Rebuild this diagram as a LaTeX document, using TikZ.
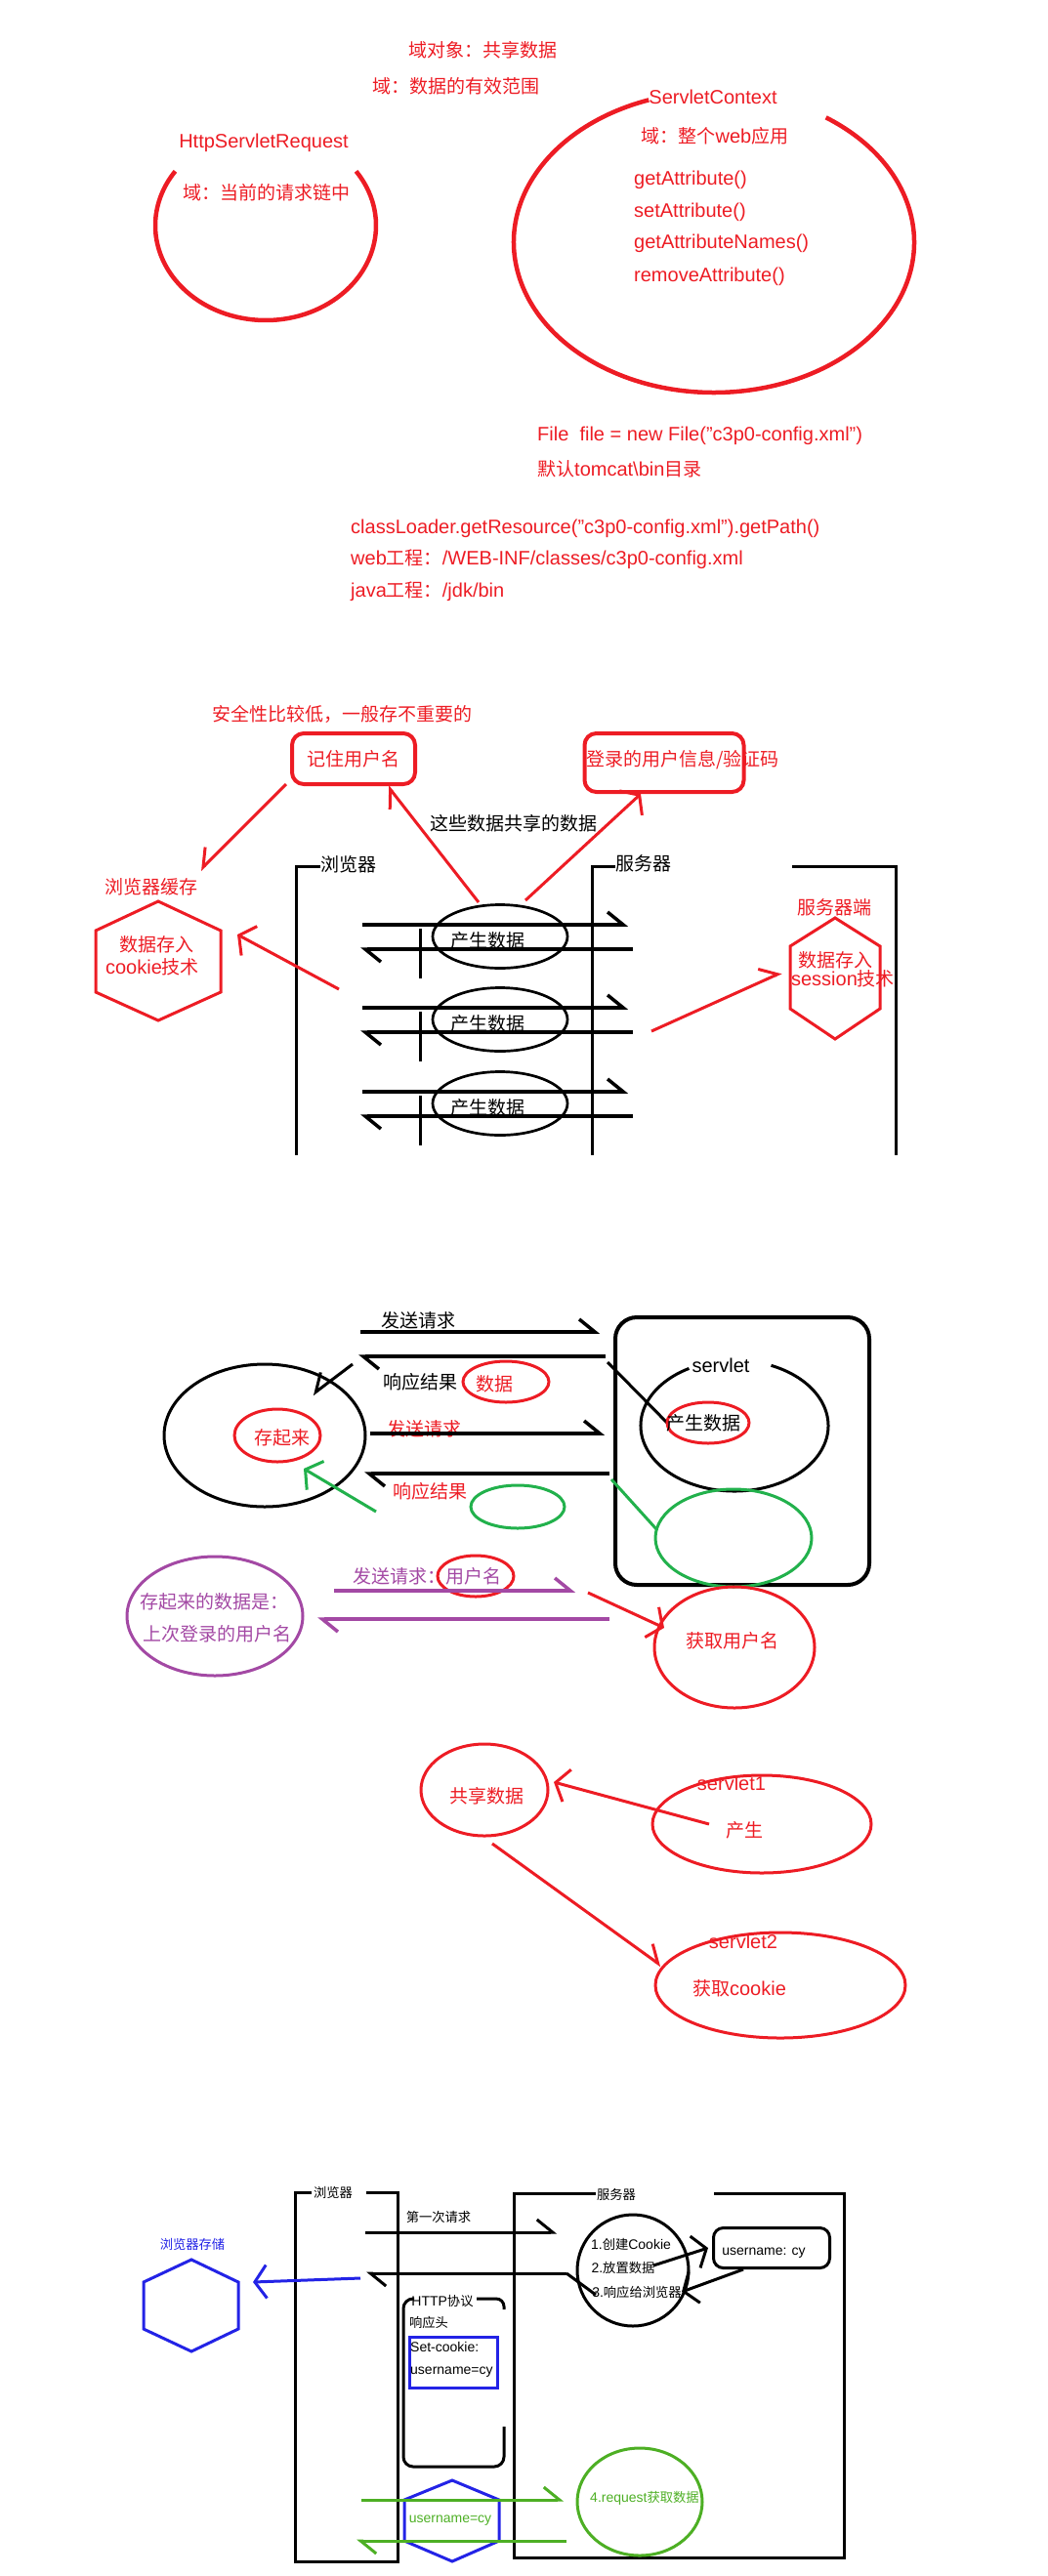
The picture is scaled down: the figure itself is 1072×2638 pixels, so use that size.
\documentclass[tikz,border=0pt]{standalone}
\usepackage{fontspec}
\setmainfont{Liberation Sans}
\newfontfamily\cjkf{Noto Sans CJK SC}[Scale=0.95]
\newcommand\zh[1]{{\cjkf #1}}
\usetikzlibrary{arrows.meta,shapes.geometric}
\definecolor{pred}{HTML}{ED1C24}
\definecolor{pgreen}{HTML}{22B14C}
\definecolor{lgreen}{HTML}{4DAF24}
\definecolor{ppurple}{HTML}{A349A4}
\definecolor{pblue}{HTML}{2323E6}
\begin{document}
\begin{tikzpicture}[x=1pt,y=-1pt,
  tx/.style={inner sep=0pt,font=\fontsize{20}{24}\selectfont},
  sm/.style={inner sep=0pt,font=\fontsize{14}{17}\selectfont},
  R/.style={text=pred}, K/.style={text=black}, G/.style={text=pgreen},
  P/.style={text=ppurple}, B/.style={text=pblue}, LG/.style={text=lgreen},
  rl/.style={draw=pred,line width=4.5pt},
  rl3/.style={draw=pred,line width=3pt},
  bk/.style={draw=black,line width=3pt},
  bk5/.style={draw=black,line width=3.5pt},
  gl/.style={draw=pgreen,line width=3pt},
  pl/.style={draw=ppurple,line width=3.5pt},
  bl/.style={draw=pblue,line width=3pt},
  lgl/.style={draw=lgreen,line width=3pt},
  ell/.style={ellipse,inner sep=0pt},
  hp/.style={-{Straight Barb[harpoon,length=16pt,width=26pt]}},
  hps/.style={-{Straight Barb[harpoon,swap,length=16pt,width=26pt]}},
  op/.style={-{Straight Barb[length=12pt,width=34pt]}},
  rbox/.style={rounded corners=12pt,line width=4pt}
]
\useasboundingbox (0,0) rectangle (1072,2638);

% ---------------- section 1
\node[tx,R] (t1) at (494,51) {\zh{域对象：共享数据}};
\node[tx,R] (t2) at (467,88) {\zh{域：数据的有效范围}};
\node[tx,R] (t3) at (270,146) {HttpServletRequest};
\node[tx,R] (t4) at (273,197) {\zh{域：当前的请求链中}};
\coordinate (c1) at (272,231);
\draw[rl] (c1) ++(-35:113 and 97) arc[start angle=-35,end angle=215,x radius=113,y radius=97];
\node[tx,R] (t5) at (730,99) {ServletContext};
\coordinate (c2) at (731,248);
\draw[rl] (c2) ++(-56:205 and 154) arc[start angle=-56,end angle=251,x radius=205,y radius=154];
\node[tx,R] (t6) at (732,139) {\zh{域：整个}web\zh{应用}};
\node[tx,R,anchor=west] (m1) at (649,184) {getAttribute()};
\node[tx,R,anchor=west] (m2) at (649,217) {setAttribute()};
\node[tx,R,anchor=west] (m3) at (649,249) {getAttributeNames()};
\node[tx,R,anchor=west] (m4) at (649,283) {removeAttribute()};
\node[tx,R,anchor=west] (f1) at (550,446) {File\ \ file = new File("c3p0-config.xml")};
\node[tx,R,anchor=west] (f2) at (550,480) {\zh{默认}tomcat\textbackslash bin\zh{目录}};
\node[tx,R,anchor=west] (f3) at (359,541) {classLoader.getResource("c3p0-config.xml").getPath()};
\node[tx,R,anchor=west] (f4) at (359,573) {web\zh{工程：}/WEB-INF/classes/c3p0-config.xml};
\node[tx,R,anchor=west] (f5) at (359,606) {java\zh{工程：}/jdk/bin};

% ---------------- section 2
\node[tx,R] (s1) at (350,731) {\zh{安全性比较低，一般存不重要的}};
\node[draw=pred,rbox,tx,R,minimum width=126pt,minimum height=52pt] (b1) at (362,777) {\zh{记住用户名}};
\node[draw=pred,rbox,minimum width=163pt,minimum height=60pt] (b2) at (680,781) {};
\node[tx,R,anchor=west] (s2) at (600,778) {\zh{登录的用户信息/验证码}};
\node[tx,K] (s3) at (526,843) {\zh{这些数据共享的数据}};
\node[tx,K] (s4) at (357,885) {\zh{浏览器}};
\node[tx,K] (s5) at (659,884) {\zh{服务器}};
\draw[bk] (328,887) -- (303,887) -- (303,1183);
\draw[bk] (630,887) -- (606,887) -- (606,1183);
\draw[bk] (811,887) -- (917,887) -- (917,1183);
\node[tx,R] (s6) at (155,908) {\zh{浏览器缓存}};
\draw[rl3] (162,923) -- (226,953) -- (226,1016) -- (162,1045) -- (98,1016) -- (98,953) -- cycle;
\node[tx,R] (s7) at (160,967) {\zh{数据存入}};
\node[tx,R] (s8) at (156,990) {cookie\zh{技术}};
\node[tx,R] (s9) at (854,929) {\zh{服务器端}};
\draw[rl3] (855,940) -- (901,969) -- (901,1033) -- (855,1064) -- (809,1033) -- (809,969) -- cycle;
\node[tx,R] (s10) at (855,983) {\zh{数据存入}};
\node[tx,R] (s11) at (863,1002) {session\zh{技术}};
\foreach \i/\y in {1/959,2/1044,3/1130} {
  \node[ell,draw,line width=2.7pt,minimum width=138pt,minimum height=65pt] (e\i) at (512,\y) {};
  \node[tx,K] (et\i) at (499,\y+4) {\zh{产生数据}};
  \coordinate (ra\i) at (371,\y-12); \coordinate (rb\i) at (643,\y-12);
  \coordinate (rc\i) at (648,\y+13); \coordinate (rd\i) at (369,\y+13);
  \draw[bk5,hp] (ra\i) -- (rb\i);
  \draw[bk5,hp] (rc\i) -- (rd\i);
  \draw[bk] (430,\y-8) -- (430,\y+43);
}
\coordinate (a1s) at (293,803); \coordinate (a1e) at (205,891);
\draw[rl3,hps] (a1s) -- (a1e);
\coordinate (a2s) at (490,924); \coordinate (a2e) at (397,805);
\draw[rl3,hp] (a2s) -- (a2e);
\coordinate (a3s) at (538,922); \coordinate (a3e) at (656,813);
\draw[rl3,op] (a3s) -- (a3e);
\coordinate (a4s) at (347,1013); \coordinate (a4e) at (243,957);
\draw[rl3,op] (a4s) -- (a4e);
\coordinate (a5s) at (667,1056); \coordinate (a5e) at (800,996);
\draw[rl3,hp] (a5s) -- (a5e);

% ---------------- section 3
\node[tx,K] (u1) at (428,1352) {\zh{发送请求}};
\coordinate (q1a) at (369,1364); \coordinate (q1b) at (614,1364);
\draw[bk5,hp] (q1a) -- (q1b);
\node[draw,line width=4pt,rounded corners=22pt,minimum width=260pt,minimum height=274pt] (sv) at (760,1486) {};
\coordinate (q2a) at (620,1389); \coordinate (q2b) at (367,1389);
\draw[bk5,hp] (q2a) -- (q2b);
\node[tx,K] (u2) at (430,1415) {\zh{响应结果}};
\node[ell,draw=pred,line width=3pt,minimum width=88pt,minimum height=42pt] (u3e) at (518,1415) {};
\node[tx,R] (u3) at (506,1417) {\zh{数据}};
\node[ell,draw,line width=3pt,minimum width=206pt,minimum height=146pt] (u4e) at (271,1470) {};
\node[ell,draw=pred,line width=3pt,minimum width=88pt,minimum height=54pt] (u5e) at (284,1470) {};
\node[tx,R] (u5) at (289,1472) {\zh{存起来}};
\coordinate (q3a) at (361,1397); \coordinate (q3b) at (320,1428);
\draw[bk,hps] (q3a) -- (q3b);
\coordinate (q4a) at (622,1395); \coordinate (q4b) at (684,1458);
\draw[bk] (q4a) -- (q4b);
\node[tx,K] (u6) at (738,1398) {servlet};
\coordinate (c3) at (752,1460);
\draw[bk] (c3) ++(-67:96 and 67) arc[start angle=-67,end angle=241,x radius=96,y radius=67];
\node[ell,draw=pred,line width=3pt,minimum width=84pt,minimum height=42pt] (u7e) at (725,1457) {};
\node[tx,K] (u7) at (720,1457) {\zh{产生数据}};
\node[tx,R] (u8) at (434,1463) {\zh{发送请求}};
\coordinate (q5a) at (379,1468); \coordinate (q5b) at (619,1468);
\draw[bk5,hp] (q5a) -- (q5b);
\coordinate (q6a) at (624,1509); \coordinate (q6b) at (373,1509);
\draw[bk5,hp] (q6a) -- (q6b);
\node[tx,R] (u9) at (440,1527) {\zh{响应结果}};
\node[ell,draw=pgreen,line width=3pt,minimum width=96pt,minimum height=44pt] (g1) at (530,1543) {};
\coordinate (q7a) at (385,1548); \coordinate (q7b) at (311,1504);
\draw[gl,op] (q7a) -- (q7b);
\coordinate (q8a) at (626,1515); \coordinate (q8b) at (673,1567);
\draw[gl] (q8a) -- (q8b);
\node[ell,draw=pgreen,line width=3pt,minimum width=160pt,minimum height=100pt] (g2) at (751,1575) {};
\node[tx,P] (u10) at (437,1614) {\zh{发送请求：用户名}};
\node[ell,draw=pred,line width=3pt,minimum width=78pt,minimum height=42pt] (u11e) at (487,1614) {};
\coordinate (q9a) at (342,1629); \coordinate (q9b) at (589,1629);
\draw[pl,hp] (q9a) -- (q9b);
\coordinate (q10a) at (624,1658); \coordinate (q10b) at (325,1658);
\draw[pl,hp] (q10a) -- (q10b);
\node[ell,draw=ppurple,line width=3pt,minimum width=180pt,minimum height=122pt] (pe) at (220,1655) {};
\node[tx,P] (u12) at (219,1640) {\zh{存起来的数据是：}};
\node[tx,P] (u13) at (222,1673) {\zh{上次登录的用户名}};
\coordinate (q11a) at (602,1631); \coordinate (q11b) at (680,1667);
\draw[rl3,op] (q11a) -- (q11b);
\node[ell,draw=pred,line width=3pt,minimum width=164pt,minimum height=124pt] (u14e) at (752,1687) {};
\node[tx,R] (u14) at (750,1680) {\zh{获取用户名}};

% ---------------- section 4
\node[ell,draw=pred,line width=3pt,minimum width=130pt,minimum height=94pt] (v1e) at (496,1833) {};
\node[tx,R] (v1) at (498,1839) {\zh{共享数据}};
\node[ell,draw=pred,line width=3pt,minimum width=224pt,minimum height=100pt] (v2e) at (780,1868) {};
\node[tx,R] (v2) at (749,1826) {servlet1};
\node[tx,R] (v3) at (762,1874) {\zh{产生}};
\coordinate (w1a) at (726,1868); \coordinate (w1b) at (567,1825);
\draw[rl3,op] (w1a) -- (w1b);
\coordinate (w2a) at (504,1888); \coordinate (w2b) at (677,2013);
\draw[rl3,hp] (w2a) -- (w2b);
\node[ell,draw=pred,line width=3pt,minimum width=256pt,minimum height=108pt] (v4e) at (799,2033) {};
\node[tx,R] (v4) at (761,1988) {servlet2};
\node[tx,R] (v5) at (757,2036) {\zh{获取}cookie};

% ---------------- section 5
\node[sm,K] (x1) at (341,2245) {\zh{浏览器}};
\draw[bk] (319,2245) -- (302,2245) -- (302,2623) -- (407,2623) -- (407,2245) -- (375,2245);
\node[sm,K] (x2) at (631,2247) {\zh{服务器}};
\draw[bk] (610,2246) -- (526,2246) -- (526,2619) -- (864,2619) -- (864,2246) -- (731,2246);
\node[sm,K] (x3) at (449,2270) {\zh{第一次请求}};
\coordinate (y1a) at (374,2286); \coordinate (y1b) at (570,2286);
\draw[bk,hp] (y1a) -- (y1b);
\node[circle,draw,line width=3pt,minimum size=114pt,inner sep=0pt] (ck) at (648,2325) {};
\node[sm,K] (x4) at (646,2298) {1.\zh{创建}Cookie};
\node[sm,K] (x5) at (638,2322) {2.\zh{放置数据}};
\node[sm,K] (x6) at (652,2347) {3.\zh{响应给浏览器}};
\node[draw,line width=3pt,rounded corners=10pt,minimum width=119pt,minimum height=41pt] (ub) at (790,2302) {};
\node[sm,K] (x7) at (782,2307) {username: cy};
\coordinate (y2a) at (669,2320); \coordinate (y2b) at (725,2302);
\draw[bk,op] (y2a) -- (y2b);
\coordinate (y3a) at (761,2324); \coordinate (y3b) at (698,2347);
\draw[bk,op] (y3a) -- (y3b);
\coordinate (y4a) at (580,2328); \coordinate (y4b) at (375,2328); \coordinate (y4c) at (610,2350);
\draw[bk,hp] (y4a) -- (y4b);
\draw[bk] (y4a) -- (y4c);
\coordinate (y5a) at (369,2333); \coordinate (y5b) at (259,2337);
\draw[bl,op] (y5a) -- (y5b);
\node[sm,B] (x8) at (197,2298) {\zh{浏览器存储}};
\draw[bl] (196,2314) -- (244,2337) -- (244,2385) -- (196,2408) -- (147,2385) -- (147,2337) -- cycle;
\node[sm,K] (x9) at (453,2356) {HTTP\zh{协议}};
\draw[bk,rounded corners=10pt] (424,2354) -- (413,2354) -- (413,2526) -- (516,2526) -- (516,2485);
\draw[bk,rounded corners=8pt] (488,2354) -- (516,2354) -- (516,2365);
\node[sm,K] (x10) at (439,2378) {\zh{响应头}};
\draw[bl] (419,2393) rectangle (509,2445);
\node[sm,K,anchor=west] (x11) at (420,2403) {Set-cookie:};
\node[sm,K,anchor=west] (x12) at (420,2429) {username=cy};
\draw[bl] (463,2540) -- (511,2560) -- (511,2602) -- (463,2623) -- (414,2602) -- (414,2560) -- cycle;
\coordinate (y6a) at (370,2560); \coordinate (y6b) at (577,2560);
\draw[lgl,hp] (y6a) -- (y6b);
\coordinate (y7a) at (580,2602); \coordinate (y7b) at (365,2602);
\draw[lgl,hp] (y7a) -- (y7b);
\node[sm,LG] (x13) at (461,2581) {username=cy};
\node[ell,draw=lgreen,line width=3pt,minimum width=128pt,minimum height=110pt] (ge) at (655,2562) {};
\node[sm,LG] (x14) at (660,2558) {4.request\zh{获取数据}};
\end{tikzpicture}
\end{document}
